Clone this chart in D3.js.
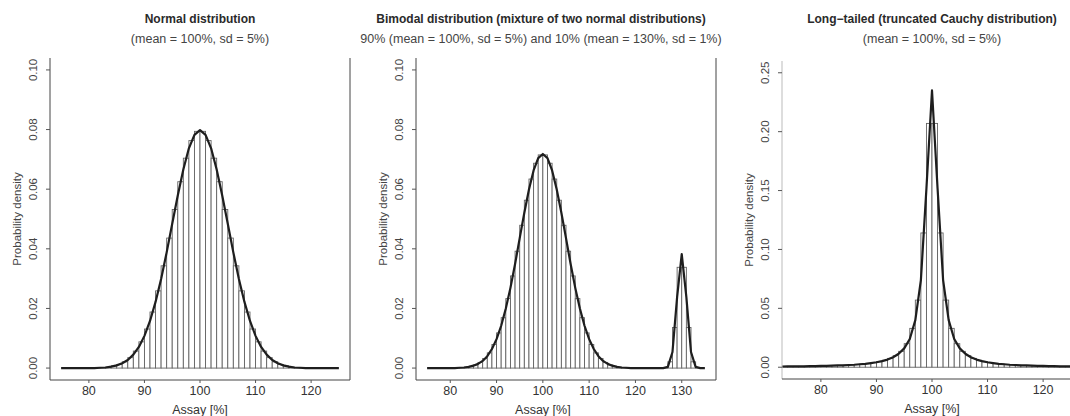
<!DOCTYPE html>
<html>
<head>
<meta charset="utf-8">
<script src="https://cdn.jsdelivr.net/npm/d3@7"></script>
<style>
  body { margin: 0; background: #fff; }
  svg text { font-family: "Liberation Sans", Arial, Helvetica, sans-serif; }
</style>
</head>
<body>
<svg id="chart" width="1070" height="416"></svg>
<script>
// ---- data ----
const titles = [
  'Normal distribution',
  'Bimodal distribution (mixture of two normal distributions)',
  'Long\u2212tailed (truncated Cauchy distribution)'
]
const subtitles = [
  '(mean = 100%, sd = 5%)',
  '90% (mean = 100%, sd = 5%) and 10% (mean = 130%, sd = 1%)',
  '(mean = 100%, sd = 5%)'
]
const xTicks1 = [80, 90, 100, 110, 120]
const xTicks2 = [80, 90, 100, 110, 120, 130]
const xTicks3 = [80, 90, 100, 110, 120]
const yTicks12 = [0, 0.02, 0.04, 0.06, 0.08, 0.1]
const yTicks3 = [0, 0.05, 0.1, 0.15, 0.2, 0.25]

// histogram bins of width 1, first bin starts at the given value
const normalBinStart = 75
const normalBins = [
  0, 0, 0, 0, 0, 0, 0.0001, 0.0002, 0.0003, 0.0007, 0.0012, 0.0021, 0.0035,
  0.0057, 0.0088, 0.0131, 0.0188, 0.0259, 0.0343, 0.0436, 0.0532, 0.0625,
  0.0704, 0.0763, 0.0794,
  0.0794, 0.0763, 0.0704, 0.0625, 0.0532, 0.0436, 0.0343, 0.0259, 0.0188,
  0.0131, 0.0088, 0.0057, 0.0035, 0.0021, 0.0012, 0.0007, 0.0003, 0.0002,
  0.0001, 0, 0, 0, 0, 0, 0
]
const normalCurveStart = 75
const normalCurve = [
  0, 0, 0, 0, 0, 0, 0, 0.0001, 0.0002, 0.0005, 0.0009, 0.0016, 0.0027,
  0.0045, 0.0071, 0.0108, 0.0158, 0.0222, 0.0299, 0.0388, 0.0484, 0.0579,
  0.0666, 0.0737, 0.0782, 0.0798,
  0.0782, 0.0737, 0.0666, 0.0579, 0.0484, 0.0388, 0.0299, 0.0222, 0.0158,
  0.0108, 0.0071, 0.0045, 0.0027, 0.0016, 0.0009, 0.0005, 0.0002, 0.0001,
  0, 0, 0, 0, 0, 0, 0
]

const bimodalBinStart = 75
const bimodalBins = [
  0, 0, 0, 0, 0, 0, 0.0001, 0.0002, 0.0003, 0.0006, 0.0011, 0.0019, 0.0032,
  0.0051, 0.0079, 0.0118, 0.0169, 0.0233, 0.0309, 0.0392, 0.0479, 0.0563,
  0.0634, 0.0687, 0.0715,
  0.0715, 0.0687, 0.0634, 0.0563, 0.0479, 0.0392, 0.0309, 0.0233, 0.0169,
  0.0118, 0.0079, 0.0051, 0.0032, 0.0019, 0.0011, 0.0006, 0.0003, 0.0002,
  0.0001, 0, 0, 0, 0, 0, 0,
  0, 0.0001, 0.0021, 0.0136, 0.0338, 0.0338, 0.0136, 0.0021, 0.0001, 0
]
const bimodalCurveStart = 75
const bimodalCurve = [
  0, 0, 0, 0, 0, 0, 0, 0.0001, 0.0002, 0.0004, 0.0008, 0.0014, 0.0024,
  0.004, 0.0064, 0.0097, 0.0142, 0.02, 0.0269, 0.0349, 0.0436, 0.0521,
  0.0599, 0.0663, 0.0704, 0.0718,
  0.0704, 0.0663, 0.0599, 0.0521, 0.0436, 0.0349, 0.0269, 0.02, 0.0142,
  0.0097, 0.0064, 0.004, 0.0024, 0.0014, 0.0008, 0.0004, 0.0002, 0.0001,
  0, 0, 0, 0, 0, 0, 0,
  0, 0.0004, 0.0054, 0.0238, 0.0382, 0.0238, 0.0054, 0.0004, 0, 0
]

const cauchyBinStart = 73
const cauchyBins = [
  0.0006, 0.0006, 0.0007, 0.0007, 0.0008, 0.0009, 0.001, 0.0011, 0.0012,
  0.0013, 0.0015, 0.0017, 0.002, 0.0023, 0.0027, 0.0032, 0.0039, 0.0047,
  0.0058, 0.0075, 0.0098, 0.0135, 0.02, 0.033, 0.057, 0.114, 0.207,
  0.207, 0.114, 0.057, 0.033, 0.02, 0.0135, 0.0098, 0.0075, 0.0058,
  0.0047, 0.0039, 0.0032, 0.0027, 0.0023, 0.002, 0.0017, 0.0015, 0.0013,
  0.0012, 0.0011, 0.001, 0.0009, 0.0008, 0.0007, 0.0007, 0.0006, 0.0006
]
const cauchyCurveStart = 73
const cauchyCurve = [
  0.0006, 0.0007, 0.0007, 0.0008, 0.0008, 0.0009, 0.001, 0.0011, 0.0012,
  0.0013, 0.0015, 0.0016, 0.0019, 0.0021, 0.0025, 0.0029, 0.0035, 0.0042,
  0.0052, 0.0065, 0.0085, 0.0114, 0.016, 0.024, 0.04, 0.074, 0.152, 0.235,
  0.152, 0.074, 0.04, 0.024, 0.016, 0.0114, 0.0085, 0.0065, 0.0052, 0.0042,
  0.0035, 0.0029, 0.0025, 0.0021, 0.0019, 0.0016, 0.0015, 0.0013, 0.0012,
  0.0011, 0.001, 0.0009, 0.0008, 0.0008, 0.0007, 0.0007, 0.0006
]

// ---- drawing ----
const svg = d3.select('#chart')
const textColor = '#2a2a2a'
const barColor = '#626262'
const lineColor = '#1e1e1e'

const drawPanel = (p, idx) => {
  const x = d3.scaleLinear().domain(p.xDomain).range([p.left, p.right])
  const y = d3.scaleLinear().domain(p.yDomain).range([p.bottom, p.top])

  const clipId = 'clip' + idx
  svg
    .append('clipPath')
    .attr('id', clipId)
    .append('rect')
    .attr('x', p.left)
    .attr('y', p.top)
    .attr('width', p.right - p.left)
    .attr('height', p.bottom - p.top)

  const g = svg.append('g').attr('clip-path', 'url(#' + clipId + ')')

  // histogram bars
  g.selectAll('rect.bar')
    .data(p.bins)
    .enter()
    .append('rect')
    .attr('class', 'bar')
    .attr('x', (d, i) => x(p.binStart + i))
    .attr('width', (d, i) => x(p.binStart + i + 1) - x(p.binStart + i))
    .attr('y', (d) => y(d))
    .attr('height', (d) => y(0) - y(d))
    .attr('fill', '#fff')
    .attr('stroke', barColor)
    .attr('stroke-width', 0.9)

  // density curve
  const line = d3
    .line()
    .x((d, i) => x(p.curveStart + i))
    .y((d) => y(d))
  g.append('path')
    .datum(p.curve)
    .attr('d', line)
    .attr('fill', 'none')
    .attr('stroke', lineColor)
    .attr('stroke-width', 2.2)
    .attr('stroke-linejoin', 'round')

  // box (left, bottom, right)
  svg.append('line')
    .attr('x1', p.left).attr('x2', p.left)
    .attr('y1', p.top).attr('y2', p.bottom)
    .attr('stroke', p.leftColor).attr('stroke-width', 1)
  svg.append('line')
    .attr('x1', p.right).attr('x2', p.right)
    .attr('y1', p.top).attr('y2', p.bottom)
    .attr('stroke', '#444').attr('stroke-width', 1)
  svg.append('line')
    .attr('x1', p.left).attr('x2', p.right)
    .attr('y1', p.bottom).attr('y2', p.bottom)
    .attr('stroke', '#444').attr('stroke-width', 1)

  // y axis
  const yAxis = svg.append('g')
  yAxis.selectAll('line')
    .data(p.yTicks)
    .enter()
    .append('line')
    .attr('x1', p.left - 4).attr('x2', p.left)
    .attr('y1', (d) => y(d)).attr('y2', (d) => y(d))
    .attr('stroke', '#555')
  yAxis.selectAll('text')
    .data(p.yTicks)
    .enter()
    .append('text')
    .attr('transform', (d) => 'translate(' + (p.left - 13) + ',' + y(d) + ') rotate(-90)')
    .attr('text-anchor', 'middle')
    .attr('font-size', 11.5)
    .attr('fill', '#444')
    .text((d) => d.toFixed(2))

  svg.append('text')
    .attr('transform', 'translate(' + (p.left - 29) + ',' + (p.top + p.bottom) / 2 + ') rotate(-90)')
    .attr('text-anchor', 'middle')
    .attr('font-size', 11.5)
    .attr('fill', '#444')
    .text('Probability density')

  // x axis
  const xAxis = svg.append('g')
  xAxis.selectAll('line')
    .data(p.xTicks)
    .enter()
    .append('line')
    .attr('x1', (d) => x(d)).attr('x2', (d) => x(d))
    .attr('y1', p.bottom).attr('y2', p.bottom + 3)
    .attr('stroke', '#555')
  xAxis.selectAll('text')
    .data(p.xTicks)
    .enter()
    .append('text')
    .attr('x', (d) => x(d))
    .attr('y', p.bottom + 15)
    .attr('text-anchor', 'middle')
    .attr('font-size', 12.5)
    .attr('fill', '#333')
    .text((d) => d)

  svg.append('text')
    .attr('x', x(100))
    .attr('y', p.bottom + 34)
    .attr('text-anchor', 'middle')
    .attr('font-size', 12.5)
    .attr('fill', '#333')
    .text('Assay [%]')

  // titles
  svg.append('text')
    .attr('x', p.titleX)
    .attr('y', 23)
    .attr('text-anchor', 'middle')
    .attr('font-size', 12)
    .attr('font-weight', 'bold')
    .attr('fill', textColor)
    .text(p.title)
  svg.append('text')
    .attr('x', p.titleX)
    .attr('y', 43)
    .attr('text-anchor', 'middle')
    .attr('font-size', 12.5)
    .attr('fill', '#444')
    .text(p.subtitle)
}

const panels = [
  {
    left: 50, right: 350, top: 58, bottom: 380,
    xDomain: [73, 127], yDomain: [-0.004, 0.104],
    xTicks: xTicks1, yTicks: yTicks12,
    bins: normalBins, binStart: normalBinStart,
    curve: normalCurve, curveStart: normalCurveStart,
    title: titles[0], subtitle: subtitles[0], titleX: 200,
    leftColor: '#444'
  },
  {
    left: 416, right: 716, top: 58, bottom: 380,
    xDomain: [72.6, 137.4], yDomain: [-0.004, 0.104],
    xTicks: xTicks2, yTicks: yTicks12,
    bins: bimodalBins, binStart: bimodalBinStart,
    curve: bimodalCurve, curveStart: bimodalCurveStart,
    title: titles[1], subtitle: subtitles[1], titleX: 541,
    leftColor: '#444'
  },
  {
    left: 782, right: 1082, top: 61, bottom: 379,
    xDomain: [73, 127], yDomain: [-0.01, 0.26],
    xTicks: xTicks3, yTicks: yTicks3,
    bins: cauchyBins, binStart: cauchyBinStart,
    curve: cauchyCurve, curveStart: cauchyCurveStart,
    title: titles[2], subtitle: subtitles[2], titleX: 932,
    leftColor: '#bbb'
  }
]

panels.forEach(drawPanel)
</script>
</body>
</html>
